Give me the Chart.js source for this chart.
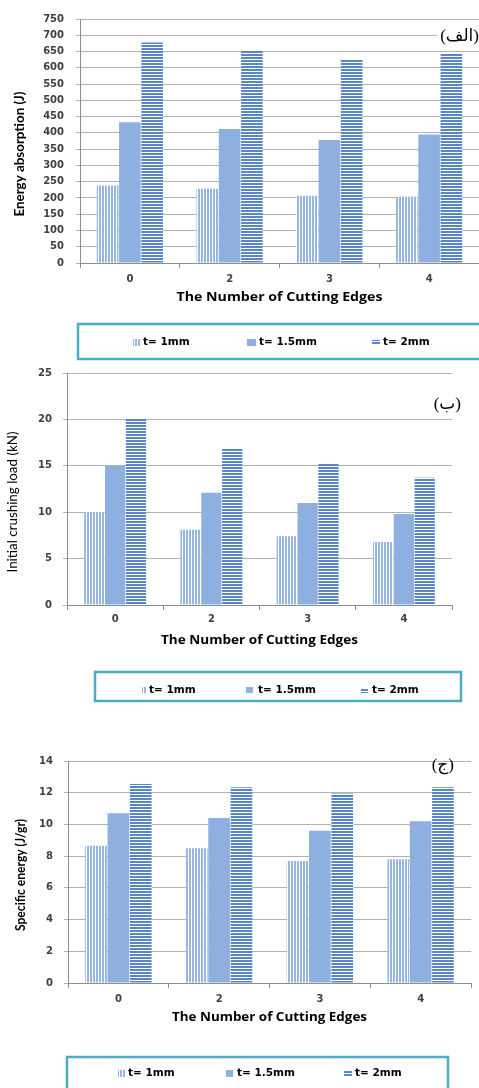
<!DOCTYPE html>
<html>
<head>
<meta charset="utf-8">
<script src="https://cdn.jsdelivr.net/npm/chart.js@4.4.1/dist/chart.umd.min.js"></script>
<style>
  html, body { margin: 0; padding: 0; background: #ffffff; }
  body { width: 479px; height: 1088px; position: relative; overflow: hidden; }
  .panel { position: absolute; left: 0; width: 479px; }
  canvas { display: block; }
</style>
</head>
<body>
<div class="panel" style="top:0;height:365px"><canvas id="energyChart" width="479" height="365"></canvas></div>
<div class="panel" style="top:365px;height:352px"><canvas id="loadChart" width="479" height="352"></canvas></div>
<div class="panel" style="top:717px;height:371px"><canvas id="specificChart" width="479" height="371"></canvas></div>
<script>
// Categories: number of cutting edges on the tube
const cuttingEdges = ['0', '2', '3', '4'];
// Wall thickness series
const seriesLabels = ['t= 1mm', 't= 1.5mm', 't= 2mm'];
const categoryTitle = 'The Number of Cutting Edges';

// Energy absorption (J)
const energyT1  = [238, 228, 207, 204];
const energyT15 = [433, 412, 378, 395];
const energyT2  = [678, 655, 627, 644];

// Initial crushing load (kN)
const loadT1  = [10.0, 8.1, 7.4, 6.8];
const loadT15 = [15.0, 12.1, 11.0, 9.8];
const loadT2  = [20.1, 16.9, 15.3, 13.7];

// Specific energy (J/gr)
const specT1  = [8.65, 8.5, 7.7, 7.8];
const specT15 = [10.7, 10.4, 9.6, 10.2];
const specT2  = [12.55, 12.35, 11.95, 12.35];

// Value-axis ranges [min, max, step]
const energyAxis = [0, 750, 50];
const loadAxis = [0, 25, 5];
const specAxis = [0, 14, 2];

const GRID = '#b2b2b2';
const AXIS = '#8e8e8e';
const TEXT = '#404040';

// Fill patterns: vertical stripes, solid, horizontal stripes
function makeFills(ctx) {
  const v = document.createElement('canvas');
  v.width = 3; v.height = 1;
  const gv = v.getContext('2d');
  gv.fillStyle = '#ffffff'; gv.fillRect(0, 0, 3, 1);
  gv.fillStyle = '#97b6e2'; gv.fillRect(0, 0, 2, 1);

  const h = document.createElement('canvas');
  h.width = 1; h.height = 3;
  const gh = h.getContext('2d');
  gh.fillStyle = '#ffffff'; gh.fillRect(0, 0, 1, 3);
  gh.fillStyle = '#5886c9'; gh.fillRect(0, 0, 1, 2);

  return [ctx.createPattern(v, 'repeat'), '#8db0e0', ctx.createPattern(h, 'repeat')];
}

// Text drawn at a fixed size and stretched along its run to a given length
function fitText(ctx, text, font, length, x, y, angle) {
  ctx.save();
  ctx.font = font;
  const natural = ctx.measureText(text).width;
  ctx.translate(x, y);
  ctx.rotate(angle);
  ctx.scale(length / natural, 1);
  ctx.textAlign = 'center';
  ctx.textBaseline = 'middle';
  ctx.fillStyle = '#000000';
  ctx.fillText(text, 0, 0);
  ctx.restore();
}

// Draws the axis titles, the panel tag and the boxed legend
const sheetDecor = {
  id: 'sheetDecor',
  afterDraw(chart, args, opts) {
    const ctx = chart.ctx;
    const area = chart.chartArea;

    const yt = opts.yTitle;
    fitText(ctx, yt.text, yt.font, yt.length, yt.x, yt.y, -Math.PI / 2);

    const xt = opts.xTitle;
    fitText(ctx, categoryTitle, xt.font, xt.length, (area.left + area.right) / 2, xt.y, 0);

    ctx.save();
    const tag = opts.tag;
    if (tag.clear) {
      ctx.fillStyle = '#ffffff';
      ctx.fillRect(tag.clear[0], tag.clear[1], tag.clear[2], tag.clear[3]);
    }
    ctx.font = `${tag.size}px "Liberation Serif", "DejaVu Serif", "DejaVu Sans", serif`;
    ctx.fillStyle = '#000000';
    ctx.textAlign = 'right';
    ctx.textBaseline = 'middle';
    ctx.fillText(tag.text, tag.x, tag.y);

    const lg = opts.legend;
    ctx.strokeStyle = '#4aacc5';
    ctx.lineWidth = 2.5;
    ctx.strokeRect(lg.box[0], lg.box[1], lg.box[2], lg.box[3]);

    ctx.font = 'bold 10.5px "DejaVu Sans", Verdana, sans-serif';
    ctx.textAlign = 'left';
    ctx.textBaseline = 'middle';
    chart.data.datasets.forEach((ds, i) => {
      const it = lg.items[i];
      ctx.fillStyle = ds.backgroundColor;
      ctx.fillRect(it.sx, Math.round(lg.y - it.sh / 2), it.sw, it.sh);
      ctx.fillStyle = '#000000';
      ctx.fillText(ds.label, it.tx, lg.y + 0.5);
    });
    ctx.restore();
  }
};

function buildChart(id, values, axisRange, layout, decor) {
  const canvas = document.getElementById(id);
  const ctx = canvas.getContext('2d');
  const fills = makeFills(ctx);
  return new Chart(ctx, {
    type: 'bar',
    data: {
      labels: cuttingEdges,
      datasets: values.map((vals, i) => ({
        label: seriesLabels[i],
        data: vals,
        backgroundColor: fills[i],
        borderWidth: 0,
        categoryPercentage: layout.groupShare,
        barPercentage: 0.97
      }))
    },
    options: {
      responsive: false,
      animation: false,
      events: [],
      layout: { padding: layout.padding },
      plugins: {
        legend: { display: false },
        tooltip: { enabled: false },
        sheetDecor: decor
      },
      scales: {
        x: {
          grid: { display: true, drawOnChartArea: false, offset: true, tickLength: 5, color: AXIS },
          border: { color: AXIS, width: 1 },
          ticks: { padding: layout.xTickPad, color: TEXT, font: { family: '"DejaVu Sans", Verdana, sans-serif', weight: 'bold', size: 10 } },
          afterFit(scale) { scale.height = layout.xHeight; }
        },
        y: {
          min: axisRange[0],
          max: axisRange[1],
          grid: { color: GRID, tickLength: 4, lineWidth: 1 },
          border: { color: AXIS, width: 1 },
          ticks: { stepSize: axisRange[2], padding: layout.yTickPad, color: TEXT, font: { family: '"DejaVu Sans", Verdana, sans-serif', weight: 'bold', size: 10 } },
          afterFit(scale) {
            scale.width = layout.yWidth;
            scale.paddingTop = 0;
            scale.paddingBottom = 0;
          }
        }
      }
    },
    plugins: [sheetDecor]
  });
}

buildChart('energyChart', [energyT1, energyT15, energyT2], energyAxis,
  { padding: { top: 19, right: 0, bottom: 60, left: 0 }, groupShare: 0.67, xHeight: 42, yWidth: 80, xTickPad: 5, yTickPad: 12 },
  {
    yTitle: { text: 'Energy absorption (J)', x: 20, y: 154, length: 125, font: 'bold 13.5px Lato, sans-serif' },
    xTitle: { y: 297, length: 206, font: 'bold 13px "Open Sans", Lato, sans-serif' },
    tag: { text: '(الف)', x: 479, y: 37, size: 17, clear: [437, 27, 42, 17] },
    legend: {
      box: [78, 324, 404, 35], y: 342,
      items: [
        { sx: 133, sw: 7, sh: 7, tx: 143 },
        { sx: 247, sw: 9, sh: 7, tx: 259 },
        { sx: 372, sw: 8, sh: 5, tx: 383 }
      ]
    }
  });

buildChart('loadChart', [loadT1, loadT15, loadT2], loadAxis,
  { padding: { top: 8, right: 27, bottom: 69, left: 0 }, groupShare: 0.65, xHeight: 43, yWidth: 67, xTickPad: 3, yTickPad: 11 },
  {
    yTitle: { text: 'Initial crushing load (kN)', x: 13, y: 137, length: 141, font: '13.5px Lato, sans-serif' },
    xTitle: { y: 275, length: 197, font: 'bold 13px "Open Sans", Lato, sans-serif' },
    tag: { text: '(ب)', x: 461, y: 40, size: 17 },
    legend: {
      box: [95, 307, 366, 29], y: 325,
      items: [
        { sx: 142, sw: 5, sh: 6, tx: 149 },
        { sx: 246, sw: 7, sh: 6, tx: 258 },
        { sx: 361, sw: 7, sh: 5, tx: 372 }
      ]
    }
  });

buildChart('specificChart', [specT1, specT15, specT2], specAxis,
  { padding: { top: 44, right: 8, bottom: 63, left: 0 }, groupShare: 0.665, xHeight: 42, yWidth: 68, xTickPad: 5, yTickPad: 11 },
  {
    yTitle: { text: 'Specific energy (J/gr)', x: 21, y: 158, length: 112, font: 'bold 13.5px Lato, sans-serif' },
    xTitle: { y: 300, length: 195, font: 'bold 13px "Open Sans", Lato, sans-serif' },
    tag: { text: '(ج)', x: 454, y: 49, size: 17 },
    legend: {
      box: [67, 340, 381, 40], y: 356,
      items: [
        { sx: 118, sw: 7, sh: 7, tx: 128 },
        { sx: 226, sw: 7, sh: 7, tx: 237 },
        { sx: 344, sw: 8, sh: 5, tx: 355 }
      ]
    }
  });
</script>
</body>
</html>
